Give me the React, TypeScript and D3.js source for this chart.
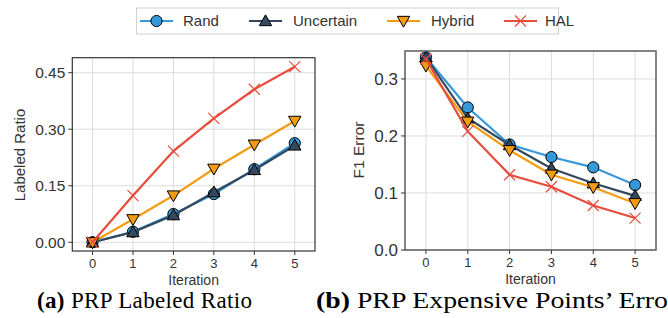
import React from "react";
import * as d3 from "d3";

const iterations = [0, 1, 2, 3, 4, 5];
const seriesNames = ["Rand", "Uncertain", "Hybrid", "HAL"];
const colors = ["#3498db", "#34495e", "#f39c12", "#e74c3c"];
const markers = ["circle", "triangleUp", "triangleDown", "x"];

const ratioRand = [0, 0.028, 0.075, 0.128, 0.194, 0.263];
const ratioUncertain = [0, 0.027, 0.072, 0.133, 0.192, 0.257];
const ratioHybrid = [0, 0.061, 0.124, 0.195, 0.259, 0.322];
const ratioHAL = [0, 0.124, 0.242, 0.329, 0.406, 0.466];

const errRand = [0.338, 0.25, 0.185, 0.163, 0.145, 0.114];
const errUncertain = [0.338, 0.231, 0.184, 0.143, 0.117, 0.095];
const errHybrid = [0.323, 0.225, 0.175, 0.132, 0.11, 0.082];
const errHAL = [0.335, 0.208, 0.132, 0.111, 0.078, 0.056];

const leftTicks = [0, 0.15, 0.3, 0.45];
const rightTicks = [0, 0.1, 0.2, 0.3];

const SANS = "'Liberation Sans', Arial, sans-serif";
const SERIF = "'Liberation Serif', 'Times New Roman', serif";

function Marker({ type, x, y, color }: { type: string; x: number; y: number; color: string }) {
  if (type === "circle") {
    return <circle cx={x} cy={y} r={5.6} fill={color} stroke="#000" strokeWidth={1} />;
  }
  if (type === "triangleUp") {
    const s = 6.2;
    return (
      <path
        d={`M${x},${y - s} L${x + s},${y + s * 0.75} L${x - s},${y + s * 0.75} Z`}
        fill={color}
        stroke="#000"
        strokeWidth={1}
      />
    );
  }
  if (type === "triangleDown") {
    const s = 6.2;
    return (
      <path
        d={`M${x},${y + s} L${x + s},${y - s * 0.75} L${x - s},${y - s * 0.75} Z`}
        fill={color}
        stroke="#000"
        strokeWidth={1}
      />
    );
  }
  const s = 5.5;
  return (
    <path
      d={`M${x - s},${y - s} L${x + s},${y + s} M${x - s},${y + s} L${x + s},${y - s}`}
      stroke={color}
      strokeWidth={1.2}
      fill="none"
    />
  );
}

type PanelProps = {
  series: number[][];
  x0: number;
  x1: number;
  yTop: number;
  yBot: number;
  yDomain: [number, number];
  yTicks: number[];
  yFmt: (v: number) => string;
  yTickSize: number;
  spineColor: string;
  spineWidth: number;
};

function Panel(p: PanelProps) {
  const x = d3.scaleLinear().domain([-0.5, 5.5]).range([p.x0, p.x1]);
  const y = d3.scaleLinear().domain(p.yDomain).range([p.yBot, p.yTop]);
  const line = d3
    .line<number>()
    .x((_, i) => x(iterations[i]))
    .y((d) => y(d));
  return (
    <g>
      {iterations.map((t) => (
        <line key={"gx" + t} x1={x(t)} x2={x(t)} y1={p.yTop} y2={p.yBot} stroke="#dcdcdc" strokeWidth={1} />
      ))}
      {p.yTicks.map((t) => (
        <line key={"gy" + t} x1={p.x0} x2={p.x1} y1={y(t)} y2={y(t)} stroke="#dcdcdc" strokeWidth={1} />
      ))}
      {p.series.map((s, si) => (
        <g key={si}>
          <path d={line(s) || ""} fill="none" stroke={colors[si]} strokeWidth={2.2} />
          {s.map((v, i) => (
            <Marker key={i} type={markers[si]} x={x(iterations[i])} y={y(v)} color={colors[si]} />
          ))}
        </g>
      ))}
      <rect
        x={p.x0}
        y={p.yTop}
        width={p.x1 - p.x0}
        height={p.yBot - p.yTop}
        fill="none"
        stroke={p.spineColor}
        strokeWidth={p.spineWidth}
      />
      {iterations.map((t) => (
        <g key={"tx" + t}>
          <line x1={x(t)} x2={x(t)} y1={p.yBot} y2={p.yBot + 4} stroke="#333" strokeWidth={1} />
          <text x={x(t)} y={p.yBot + 17} textAnchor="middle" fontFamily={SANS} fontSize={13} fill="#333">
            {t}
          </text>
        </g>
      ))}
      {p.yTicks.map((t) => (
        <g key={"ty" + t}>
          <line x1={p.x0 - 4} x2={p.x0} y1={y(t)} y2={y(t)} stroke="#333" strokeWidth={1} />
          <text
            x={p.x0 - 7}
            y={y(t)}
            dy="0.36em"
            textAnchor="end"
            fontFamily={SANS}
            fontSize={p.yTickSize}
            fill="#333"
          >
            {p.yFmt(t)}
          </text>
        </g>
      ))}
      <text
        x={(p.x0 + p.x1) / 2}
        y={p.yBot + 34}
        textAnchor="middle"
        fontFamily={SANS}
        fontSize={14}
        fill="#333"
      >
        Iteration
      </text>
    </g>
  );
}

export default function App() {
  const W = 668;
  const H = 318;
  const legendItems = [
    { x: 140, tx: 183 },
    { x: 249, tx: 293 },
    { x: 387, tx: 431 },
    { x: 504, tx: 545 },
  ];
  return (
    <svg width={W} height={H} style={{ position: "absolute", left: 0, top: 0, background: "#fff" }}>
      <rect x={0} y={0} width={W} height={H} fill="#fff" />
      <Panel
        series={[ratioRand, ratioUncertain, ratioHybrid, ratioHAL]}
        x0={72.3}
        x1={315}
        yTop={57.7}
        yBot={251}
        yDomain={[-0.0231, 0.4898]}
        yTicks={leftTicks}
        yFmt={d3.format(".2f")}
        yTickSize={15.5}
        spineColor="#333"
        spineWidth={1.2}
      />
      <Panel
        series={[errRand, errUncertain, errHybrid, errHAL]}
        x0={405}
        x1={656}
        yTop={51}
        yBot={250}
        yDomain={[0, 0.349]}
        yTicks={rightTicks}
        yFmt={d3.format(".1f")}
        yTickSize={17}
        spineColor="#666"
        spineWidth={1.6}
      />
      <text
        transform="translate(25,155) rotate(-90)"
        textAnchor="middle"
        fontFamily={SANS}
        fontSize={15}
        fill="#333"
      >
        Labeled Ratio
      </text>
      <text
        transform="translate(364,150) rotate(-90)"
        textAnchor="middle"
        fontFamily={SANS}
        fontSize={15.5}
        fill="#333"
      >
        F1 Error
      </text>
      {/* legend */}
      <rect x={136.5} y={8} width={422} height={26} fill="#fff" stroke="#d0d0d0" strokeWidth={1} />
      {seriesNames.map((n, i) => {
        const it = legendItems[i];
        return (
          <g key={n}>
            <line x1={it.x} x2={it.x + 33} y1={21} y2={21} stroke={colors[i]} strokeWidth={2.2} />
            <Marker type={markers[i]} x={it.x + 16.5} y={21} color={colors[i]} />
            <text x={it.tx} y={21} dy="0.36em" fontFamily={SANS} fontSize={15} fill="#333">
              {n}
            </text>
          </g>
        );
      })}
      {/* captions */}
      <text x={37} y={308} fontFamily={SERIF} fontSize={23} fill="#000" textLength={215} lengthAdjust="spacing">
        <tspan fontWeight="bold">(a)</tspan> PRP Labeled Ratio
      </text>
      <text x={316} y={308} fontFamily={SERIF} fontSize={23} fill="#000" textLength={352} lengthAdjust="spacingAndGlyphs">
        <tspan fontWeight="bold">(b)</tspan> PRP Expensive Points’ Erro
      </text>
    </svg>
  );
}
